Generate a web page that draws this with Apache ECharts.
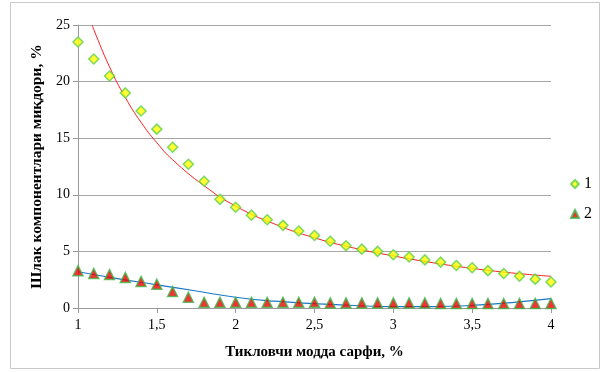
<!DOCTYPE html>
<html><head><meta charset="utf-8">
<script src="https://cdn.jsdelivr.net/npm/echarts@6/dist/echarts.min.js"></script>
<style>html,body{margin:0;padding:0;background:#fff}#c{width:603px;height:372px}</style>
</head><body><div id="c"></div>
<script>
// Data
const xValues = [1.0,1.1,1.2,1.3,1.4,1.5,1.6,1.7,1.8,1.9,2.0,2.1,2.2,2.3,2.4,2.5,2.6,2.7,2.8,2.9,3.0,3.1,3.2,3.3,3.4,3.5,3.6,3.7,3.8,3.9,4.0];
const series1 = [23.5,22.0,20.5,19.0,17.4,15.8,14.2,12.7,11.2,9.6,8.9,8.2,7.8,7.3,6.8,6.4,5.9,5.5,5.2,5.0,4.7,4.5,4.25,4.05,3.75,3.55,3.3,3.05,2.8,2.55,2.3];
const series2 = [3.3,3.05,2.95,2.7,2.35,2.1,1.45,0.95,0.5,0.5,0.5,0.5,0.5,0.5,0.5,0.5,0.45,0.45,0.45,0.45,0.45,0.45,0.45,0.4,0.4,0.4,0.4,0.4,0.4,0.4,0.4];
// trend lines
const trend1X = [1.09,1.1,1.2,1.3,1.4,1.5,1.6,1.8,2.0,2.25,2.5,2.75,3.0,3.25,3.5,3.75,4.0];
const trend1Y = [25.0,24.6,21.3,18.6,16.4,14.6,13.1,10.8,9.0,7.4,6.2,5.3,4.6,4.0,3.5,3.1,2.8];
const trend2X = [1.0,1.25,1.5,1.75,2.0,2.25,2.5,2.75,3.0,3.25,3.5,3.75,4.0];
const trend2Y = [3.2,2.6,2.05,1.5,0.95,0.6,0.38,0.22,0.13,0.13,0.23,0.48,0.82];
const seriesNames = ['1','2'];
const xTitle = 'Тикловчи модда сарфи, %';
const yTitle = 'Шлак компонентлари миқдори, %';

const pair = (xs, ys) => xs.map((x, i) => [x, ys[i]]);
const font = '"Liberation Serif","Times New Roman",serif';
const chart = echarts.init(document.getElementById('c'), null, {renderer: 'canvas'});
chart.setOption({
  animation: false,
  backgroundColor: '#fff',
  graphic: [{type: 'rect', shape: {x: 10.5, y: 2.5, width: 589, height: 366}, style: {fill: 'none', stroke: '#c8c8c8', lineWidth: 1}}],
  grid: {left: 78, right: 52, top: 25, bottom: 64},
  legend: {
    orient: 'vertical', right: 6, top: 171, itemGap: 14, itemWidth: 8, itemHeight: 8,
    data: seriesNames,
    textStyle: {fontFamily: font, fontSize: 16, color: '#000'}
  },
  xAxis: {
    type: 'value', min: 1, max: 4, interval: 0.5,
    name: xTitle, nameLocation: 'middle', nameGap: 37,
    nameTextStyle: {fontFamily: font, fontSize: 15, fontWeight: 'bold', color: '#000'},
    axisLine: {lineStyle: {color: '#999'}},
    axisTick: {show: true, length: 5, lineStyle: {color: '#999'}},
    splitLine: {show: false},
    axisLabel: {fontFamily: font, fontSize: 14, color: '#000', margin: 10,
      formatter: v => String(v).replace('.', ',')}
  },
  yAxis: {
    type: 'value', min: 0, max: 25, interval: 5,
    name: yTitle, nameLocation: 'middle', nameGap: 31,
    nameTextStyle: {fontFamily: font, fontSize: 15.5, fontWeight: 'bold', color: '#000'},
    axisLine: {show: true, lineStyle: {color: '#999'}},
    axisTick: {show: true, length: 5, lineStyle: {color: '#999'}},
    splitLine: {lineStyle: {color: '#a6a6a6'}},
    axisLabel: {fontFamily: font, fontSize: 14, color: '#000', margin: 8}
  },
  series: [
    {name: 'trend1', type: 'line', data: pair(trend1X, trend1Y), smooth: true, showSymbol: false,
     lineStyle: {color: '#ff2020', width: 1}, silent: true, z: 1},
    {name: 'trend2', type: 'line', data: pair(trend2X, trend2Y), smooth: true, showSymbol: false,
     lineStyle: {color: '#1a78c8', width: 1.2}, silent: true, z: 1},
    {name: seriesNames[0], type: 'scatter', data: pair(xValues, series1), symbol: 'diamond', symbolSize: 10,
     itemStyle: {color: '#ffff00', borderColor: '#5ccf4a', borderWidth: 1.5}, z: 3},
    {name: seriesNames[1], type: 'scatter', data: pair(xValues, series2), symbol: 'triangle', symbolSize: 10,
     itemStyle: {color: '#ee0000', borderColor: '#3cb84a', borderWidth: 1.5}, z: 3}
  ]
});
</script></body></html>
